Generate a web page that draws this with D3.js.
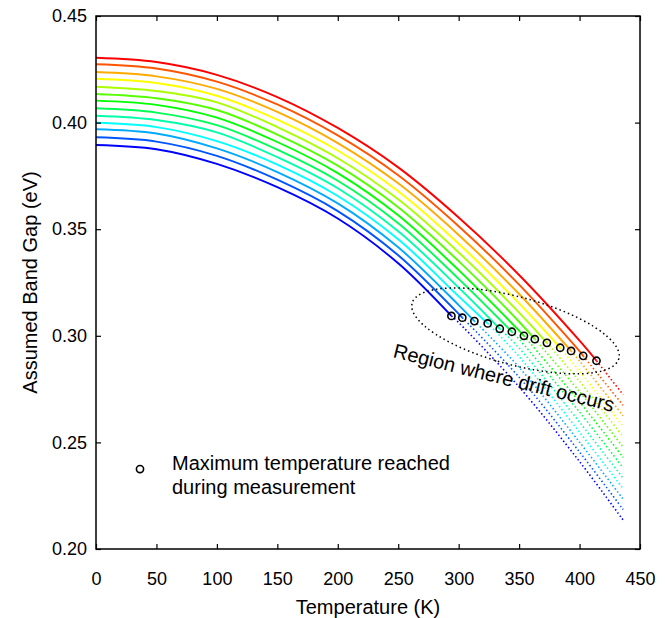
<!DOCTYPE html>
<html>
<head>
<meta charset="utf-8">
<script src="https://cdn.jsdelivr.net/npm/d3@7"></script>
<style>
  body { margin: 0; background: #fff; }
  svg { display: block; }
  text { font-family: Arial, "Liberation Sans", sans-serif; fill: #000; }
</style>
</head>
<body>
<svg></svg>
<script>
const temps = [0, 50, 100, 150, 200, 250, 300, 350, 400, 436];

// assumed band gap (eV) of each curve at the temps above, lowest (blue) curve first
const gapSeries = [
  [0.3895, 0.3875, 0.3806, 0.3697, 0.3550, 0.3340, 0.3062, 0.2760, 0.2410, 0.2136],
  [0.3931, 0.3911, 0.3844, 0.3732, 0.3585, 0.3378, 0.3103, 0.2806, 0.2455, 0.2185],
  [0.3969, 0.3949, 0.3879, 0.3768, 0.3621, 0.3415, 0.3144, 0.2852, 0.2501, 0.2234],
  [0.3999, 0.3979, 0.3913, 0.3803, 0.3656, 0.3453, 0.3185, 0.2903, 0.2548, 0.2283],
  [0.4032, 0.4012, 0.3954, 0.3838, 0.3692, 0.3490, 0.3226, 0.2943, 0.2595, 0.2332],
  [0.4067, 0.4047, 0.3988, 0.3873, 0.3727, 0.3528, 0.3267, 0.2984, 0.2642, 0.2381],
  [0.4103, 0.4083, 0.4023, 0.3909, 0.3763, 0.3565, 0.3308, 0.3024, 0.2690, 0.2430],
  [0.4134, 0.4114, 0.4059, 0.3944, 0.3798, 0.3603, 0.3350, 0.3066, 0.2738, 0.2478],
  [0.4168, 0.4148, 0.4095, 0.3979, 0.3833, 0.3640, 0.3391, 0.3109, 0.2786, 0.2527],
  [0.4206, 0.4186, 0.4126, 0.4014, 0.3869, 0.3678, 0.3432, 0.3152, 0.2834, 0.2576],
  [0.4237, 0.4217, 0.4158, 0.4050, 0.3904, 0.3715, 0.3473, 0.3196, 0.2882, 0.2625],
  [0.4274, 0.4254, 0.4192, 0.4085, 0.3940, 0.3753, 0.3514, 0.3240, 0.2928, 0.2674],
  [0.4304, 0.4284, 0.4224, 0.4120, 0.3975, 0.3790, 0.3555, 0.3285, 0.2977, 0.2724]
];

// maximum temperature reached for each curve, and the gap there (the circles)
const maxTemp = [294, 303, 313, 324, 334, 344, 354, 363, 373, 384, 393, 403, 414];
const maxGap  = [0.3093, 0.3085, 0.3069, 0.3058, 0.3033, 0.3019, 0.3000, 0.2984, 0.2967, 0.2944, 0.2929, 0.2906, 0.2883];

const lineColors = ["#0000ff", "#0055ff", "#00aaff", "#00ffff", "#00ffaa", "#00ff55", "#00ff00",
                    "#55ff00", "#aaff00", "#ffff00", "#ffaa00", "#ff5500", "#ff0000"];

const xTicks = [0, 50, 100, 150, 200, 250, 300, 350, 400, 450];
const yTicks = [0.20, 0.25, 0.30, 0.35, 0.40, 0.45];

// annotation anchors, in data units [T, eV]
const driftRegion = [347, 0.3023];
const driftLabel = [336, 0.2772];
const legendMark = [36.4, 0.2375];

const w = 665, h = 618;
const margin = { top: 16, right: 25, bottom: 69, left: 96 };
const innerWidth = w - margin.left - margin.right;
const innerHeight = h - margin.top - margin.bottom;

const svg = d3.select("svg").attr("width", w).attr("height", h);
const g = svg.append("g").attr("transform", `translate(${margin.left},${margin.top})`);

const xScale = d3.scaleLinear().domain([0, 450]).range([0, innerWidth]);
const yScale = d3.scaleLinear().domain([0.20, 0.45]).range([innerHeight, 0]);

const line = d3.line()
  .x(d => xScale(d[0]))
  .y(d => yScale(d[1]))
  .curve(d3.curveCatmullRom.alpha(0.5));

// curves: solid up to the max temperature, dotted beyond it
gapSeries.forEach(function(vals, i) {
  const pts = temps.map((t, k) => [t, vals[k]]);
  const peak = [maxTemp[i], maxGap[i]];
  const solid = pts.filter(p => p[0] < peak[0]).concat([peak]);
  const dotted = [peak].concat(pts.filter(p => p[0] > peak[0]));

  g.append("path")
    .attr("d", line(dotted))
    .attr("fill", "none")
    .attr("stroke", lineColors[i])
    .attr("stroke-width", 1.6)
    .attr("stroke-dasharray", "1.5,2.4");

  g.append("path")
    .attr("d", line(solid))
    .attr("fill", "none")
    .attr("stroke", lineColors[i])
    .attr("stroke-width", 1.9);
});

// circles at max temperature
g.selectAll("circle.peak")
  .data(maxTemp)
  .enter()
  .append("circle")
  .attr("class", "peak")
  .attr("cx", d => xScale(d))
  .attr("cy", (d, i) => yScale(maxGap[i]))
  .attr("r", 3.6)
  .attr("fill", "none")
  .attr("stroke", "#000")
  .attr("stroke-width", 1.6);

// dotted ellipse around the drift region
g.append("ellipse")
  .attr("transform", `translate(${xScale(driftRegion[0])},${yScale(driftRegion[1])}) rotate(15)`)
  .attr("rx", 107)
  .attr("ry", 34)
  .attr("fill", "none")
  .attr("stroke", "#000")
  .attr("stroke-width", 1.5)
  .attr("stroke-dasharray", "1.5,3");

g.append("text")
  .attr("transform", `translate(${xScale(driftLabel[0])},${yScale(driftLabel[1])}) rotate(14)`)
  .attr("text-anchor", "middle")
  .style("font-size", "20px")
  .text("Region where drift occurs");

// legend
g.append("circle")
  .attr("cx", xScale(legendMark[0]))
  .attr("cy", yScale(legendMark[1]))
  .attr("r", 3.6)
  .attr("fill", "none")
  .attr("stroke", "#000")
  .attr("stroke-width", 1.6);

const legendText = g.append("text")
  .attr("x", xScale(legendMark[0]) + 32)
  .attr("y", yScale(legendMark[1]) + 1)
  .style("font-size", "20px");
legendText.append("tspan").text("Maximum temperature reached");
legendText.append("tspan")
  .attr("x", xScale(legendMark[0]) + 32)
  .attr("dy", 24)
  .text("during measurement");

// axes, ticks pointing inward on all four sides
const xAxis = g.append("g")
  .attr("transform", `translate(0,${innerHeight})`)
  .call(d3.axisBottom(xScale).tickValues(xTicks).tickSizeInner(-5).tickSizeOuter(0)
    .tickPadding(23).tickFormat(d3.format("d")));
const yAxis = g.append("g")
  .call(d3.axisLeft(yScale).tickValues(yTicks).tickSizeInner(-5).tickSizeOuter(0)
    .tickPadding(9).tickFormat(d3.format(".2f")));
const topAxis = g.append("g")
  .call(d3.axisTop(xScale).tickValues(xTicks).tickSizeInner(-5).tickSizeOuter(0));
const rightAxis = g.append("g")
  .attr("transform", `translate(${innerWidth},0)`)
  .call(d3.axisRight(yScale).tickValues(yTicks).tickSizeInner(-5).tickSizeOuter(0));

topAxis.selectAll("text").remove();
rightAxis.selectAll("text").remove();

[xAxis, yAxis, topAxis, rightAxis].forEach(function(a) {
  a.select(".domain").remove();
  a.selectAll("line").attr("stroke", "#000").attr("stroke-width", 1.2);
  a.selectAll("text").style("font-size", "18px").attr("fill", "#000");
});

g.append("rect")
  .attr("width", innerWidth)
  .attr("height", innerHeight)
  .attr("fill", "none")
  .attr("stroke", "#000")
  .attr("stroke-width", 1.5);

svg.append("text")
  .attr("x", margin.left + innerWidth / 2)
  .attr("y", 614)
  .attr("text-anchor", "middle")
  .style("font-size", "20px")
  .text("Temperature (K)");

svg.append("text")
  .attr("transform", `translate(37,${margin.top + innerHeight / 2}) rotate(-90)`)
  .attr("text-anchor", "middle")
  .style("font-size", "20px")
  .text("Assumed Band Gap (eV)");
</script>
</body>
</html>
